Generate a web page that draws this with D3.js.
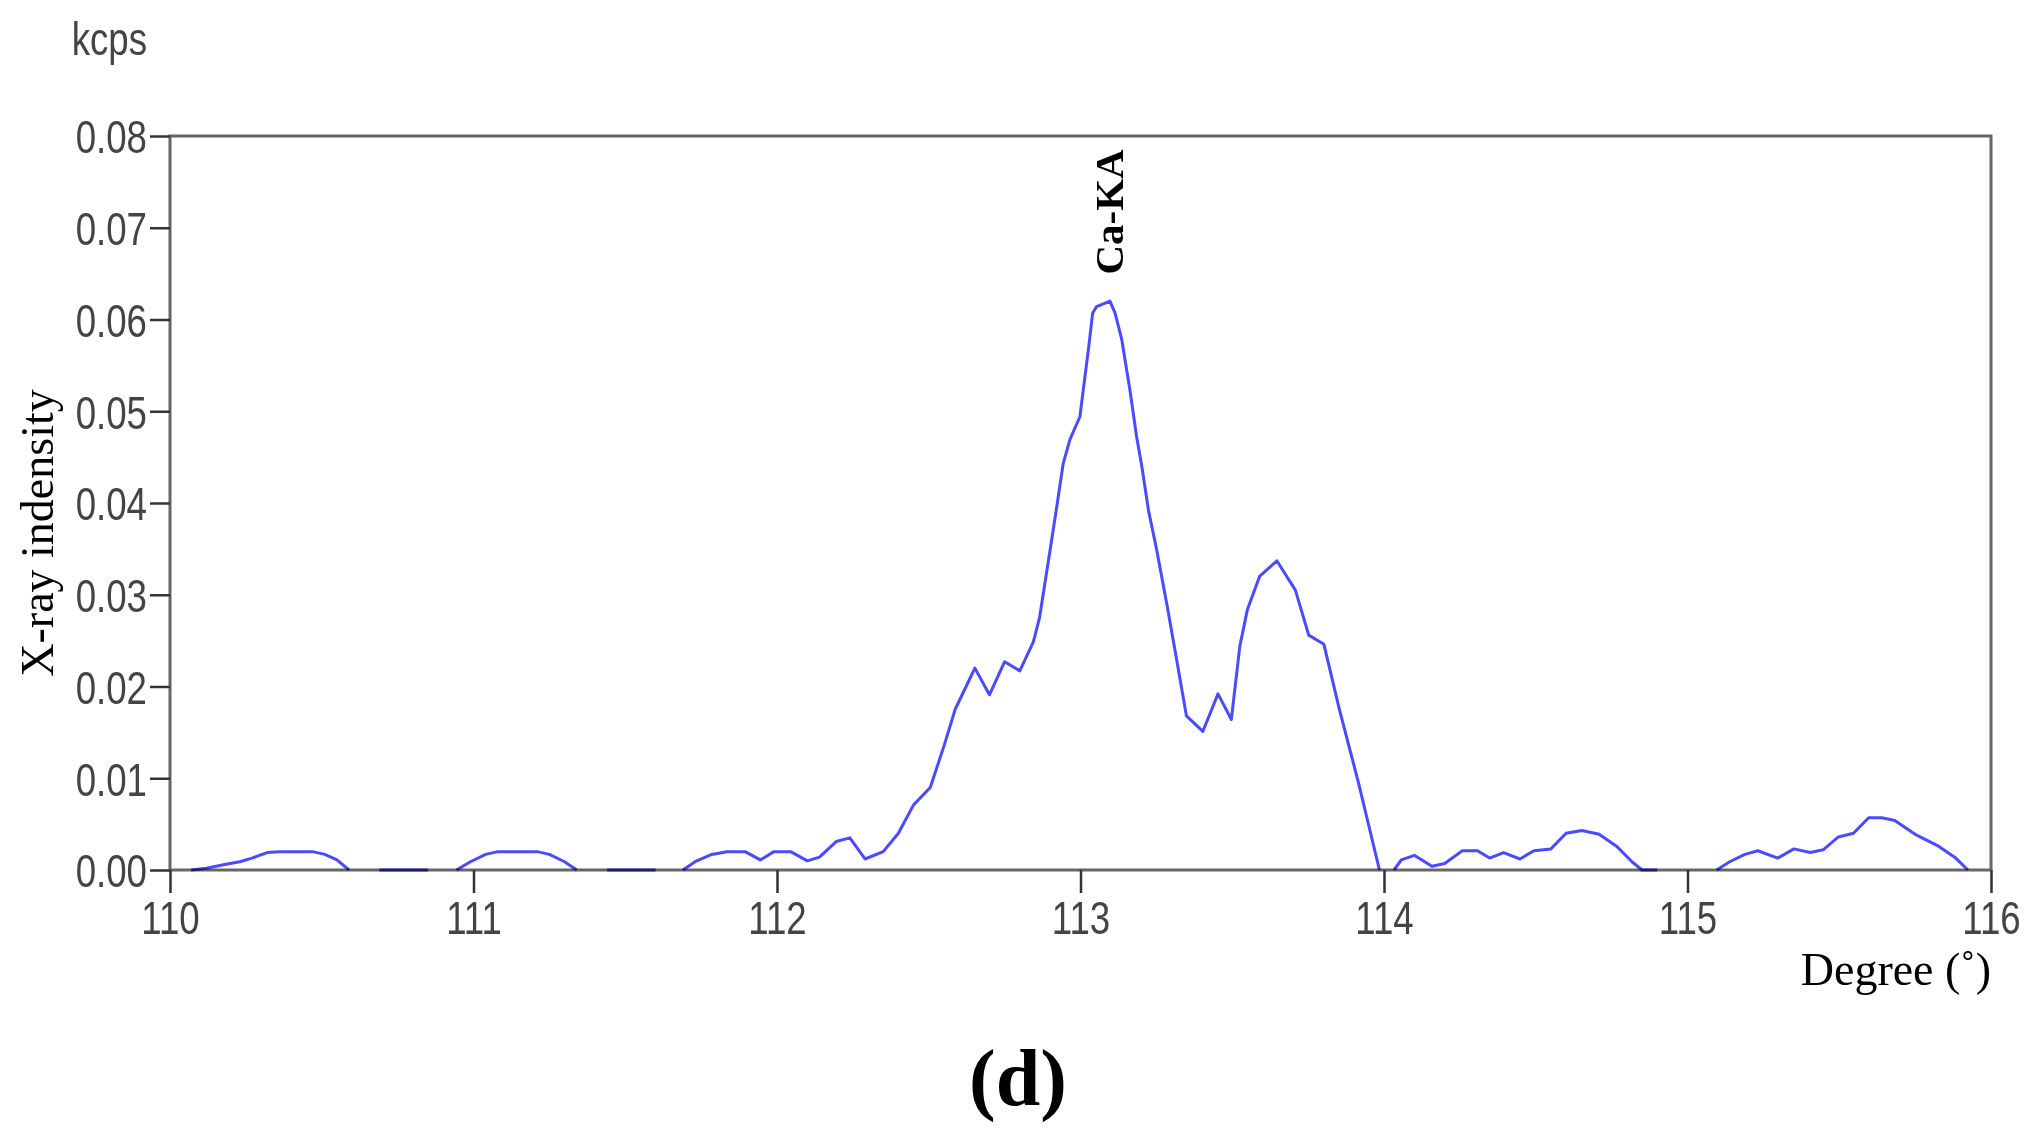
<!DOCTYPE html>
<html>
<head>
<meta charset="utf-8">
<script src="https://cdn.jsdelivr.net/npm/d3@7"></script>
<style>
  body { margin: 0; background: #fff; }
  .tick-lab { font-family: "Liberation Sans", Arial, sans-serif; fill: #444; }
  .serif { font-family: "Liberation Serif", "Times New Roman", serif; fill: #000; }
</style>
</head>
<body>
<div id="chart"></div>
<script>
// spettro X-ray, picco Ca-KA
// null = tratto mancante nella curva
const degree = [
  110.07, 110.12, 110.18, 110.23, 110.27, 110.32, 110.36, 110.47, 110.51, 110.55, 110.59,
  110.64, 110.69, 110.85, 110.90,
  110.944, 110.99, 111.04, 111.08, 111.21, 111.25, 111.30, 111.34,
  111.39, 111.44, 111.60, 111.65,
  111.69, 111.73, 111.785, 111.835, 111.895, 111.945, 111.99, 112.045, 112.10, 112.14,
  112.195, 112.24, 112.29, 112.35, 112.40, 112.45, 112.505, 112.55, 112.587, 112.61,
  112.652, 112.70, 112.75, 112.80, 112.845, 112.865, 112.90, 112.92, 112.943, 112.965,
  112.998, 113.009, 113.026, 113.04, 113.053, 113.097, 113.114, 113.136, 113.163, 113.185,
  113.202, 113.224, 113.251, 113.286, 113.317, 113.349, 113.403, 113.453, 113.497, 113.525,
  113.55, 113.59, 113.647, 113.708, 113.752, 113.802, 113.853, 113.916, 113.985,
  114.01,
  114.033, 114.057, 114.10, 114.158, 114.20, 114.258, 114.308, 114.348, 114.394, 114.448,
  114.494, 114.55, 114.60, 114.652, 114.709, 114.766, 114.817, 114.85, 114.90,
  115.0,
  115.096, 115.139, 115.189, 115.232, 115.297, 115.351, 115.404, 115.447, 115.497, 115.547,
  115.597, 115.64, 115.683, 115.755, 115.827, 115.884, 115.924
];
const kcps = [
  0, 0.0002, 0.0006, 0.0009, 0.0013, 0.0019, 0.002, 0.002, 0.0017, 0.0011, 0,
  null, 0, 0, null,
  0, 0.0009, 0.0017, 0.002, 0.002, 0.0017, 0.0009, 0,
  null, 0, 0, null,
  0, 0.0009, 0.0017, 0.002, 0.002, 0.0011, 0.002, 0.002, 0.001, 0.0014,
  0.0031, 0.0035, 0.0012, 0.0020, 0.0040, 0.0071, 0.0090, 0.0135, 0.0175, 0.0191,
  0.0220, 0.0191, 0.0227, 0.0217, 0.0249, 0.0275, 0.0349, 0.0392, 0.0443, 0.0469,
  0.0494, 0.0523, 0.0567, 0.0607, 0.0614, 0.0620, 0.0607, 0.0578, 0.0523, 0.0472,
  0.0440, 0.0392, 0.0349, 0.0287, 0.0229, 0.0168, 0.0151, 0.0192, 0.0164, 0.0244,
  0.0284, 0.0320, 0.0337, 0.0305, 0.0256, 0.0246, 0.0175, 0.0095, 0,
  null,
  0, 0.0011, 0.0016, 0.0004, 0.0007, 0.0021, 0.0021, 0.0013, 0.0019, 0.0012,
  0.0021, 0.0023, 0.0040, 0.0043, 0.0039, 0.0026, 0.0009, 0, 0,
  null,
  0, 0.0009, 0.0017, 0.0021, 0.0013, 0.0023, 0.0019, 0.0022, 0.0036, 0.0040,
  0.0057, 0.0057, 0.0054, 0.0038, 0.0026, 0.0013, 0
];
const xTicks = [110, 111, 112, 113, 114, 115, 116];
const yTicks = [0, 0.01, 0.02, 0.03, 0.04, 0.05, 0.06, 0.07, 0.08];
const peakLabel = { name: 'Ca-KA', deg: 113.09, val: 0.0625 };

const W = 2033, H = 1144;
const plot = { left: 170, right: 1991, top: 136, bottom: 870 };
const sx = 0.78; // testo sans "stretto" come nell'originale

const svg = d3.select('#chart').append('svg')
  .attr('width', W).attr('height', H);

const x = d3.scaleLinear().domain([110, 116]).range([plot.left, plot.right]);
const y = d3.scaleLinear().domain([0, 0.08]).range([plot.bottom, plot.top]);

// cornice
svg.append('rect')
  .attr('x', plot.left).attr('y', plot.top)
  .attr('width', plot.right - plot.left).attr('height', plot.bottom - plot.top)
  .attr('fill', 'none').attr('stroke', '#666').attr('stroke-width', 3);

// asse y
const gy = svg.append('g')
  .attr('transform', `translate(${plot.left},0)`)
  .call(d3.axisLeft(y).tickValues(yTicks).tickFormat(d3.format('.2f')).tickSize(20).tickSizeOuter(0));
gy.select('.domain').remove();
gy.selectAll('line').attr('stroke', '#333').attr('stroke-width', 2.5);
gy.selectAll('text')
  .attr('class', 'tick-lab')
  .style('font-size', '47px')
  .attr('x', -23 / sx)
  .attr('dy', '0.36em')
  .attr('transform', `scale(${sx},1)`);

// asse x
const gx = svg.append('g')
  .attr('transform', `translate(0,${plot.bottom})`)
  .call(d3.axisBottom(x).tickValues(xTicks).tickFormat(d3.format('d')).tickSize(23).tickSizeOuter(0));
gx.select('.domain').remove();
gx.selectAll('line').attr('stroke', '#333').attr('stroke-width', 2.5);
gx.selectAll('text')
  .attr('class', 'tick-lab')
  .style('font-size', '47px')
  .attr('y', 64)
  .attr('dy', 0)
  .attr('transform', `scale(${sx},1)`);

// unita
svg.append('text')
  .attr('class', 'tick-lab')
  .style('font-size', '47px')
  .attr('text-anchor', 'end')
  .attr('transform', `translate(147,55) scale(${sx},1)`)
  .text('kcps');

// curva
const pts = degree.map((d, i) => ({ deg: d, v: kcps[i] }));
const line = d3.line()
  .defined(d => d.v !== null)
  .x(d => x(d.deg))
  .y(d => y(d.v));

svg.append('path')
  .datum(pts)
  .attr('d', line)
  .attr('fill', 'none')
  .attr('stroke', '#4a4aff')
  .attr('stroke-width', 3)
  .attr('stroke-linejoin', 'round')
  .style('mix-blend-mode', 'multiply');

// etichetta picco
svg.append('text')
  .attr('class', 'serif')
  .style('font-size', '41px')
  .style('font-weight', 'bold')
  .attr('text-anchor', 'start')
  .attr('transform', `translate(${x(peakLabel.deg) + 15},${y(peakLabel.val) - 22}) rotate(-90)`)
  .text(peakLabel.name);

// titoli assi
svg.append('text')
  .attr('class', 'serif')
  .style('font-size', '46px')
  .attr('text-anchor', 'middle')
  .attr('transform', 'translate(53,533) rotate(-90)')
  .text('X-ray indensity');

svg.append('text')
  .attr('class', 'serif')
  .style('font-size', '46px')
  .attr('text-anchor', 'end')
  .attr('x', plot.right)
  .attr('y', 985)
  .text('Degree (˚)');

svg.append('text')
  .attr('class', 'serif')
  .style('font-size', '80px')
  .style('font-weight', 'bold')
  .attr('text-anchor', 'middle')
  .attr('x', 1018)
  .attr('y', 1105)
  .text('(d)');
</script>
</body>
</html>
